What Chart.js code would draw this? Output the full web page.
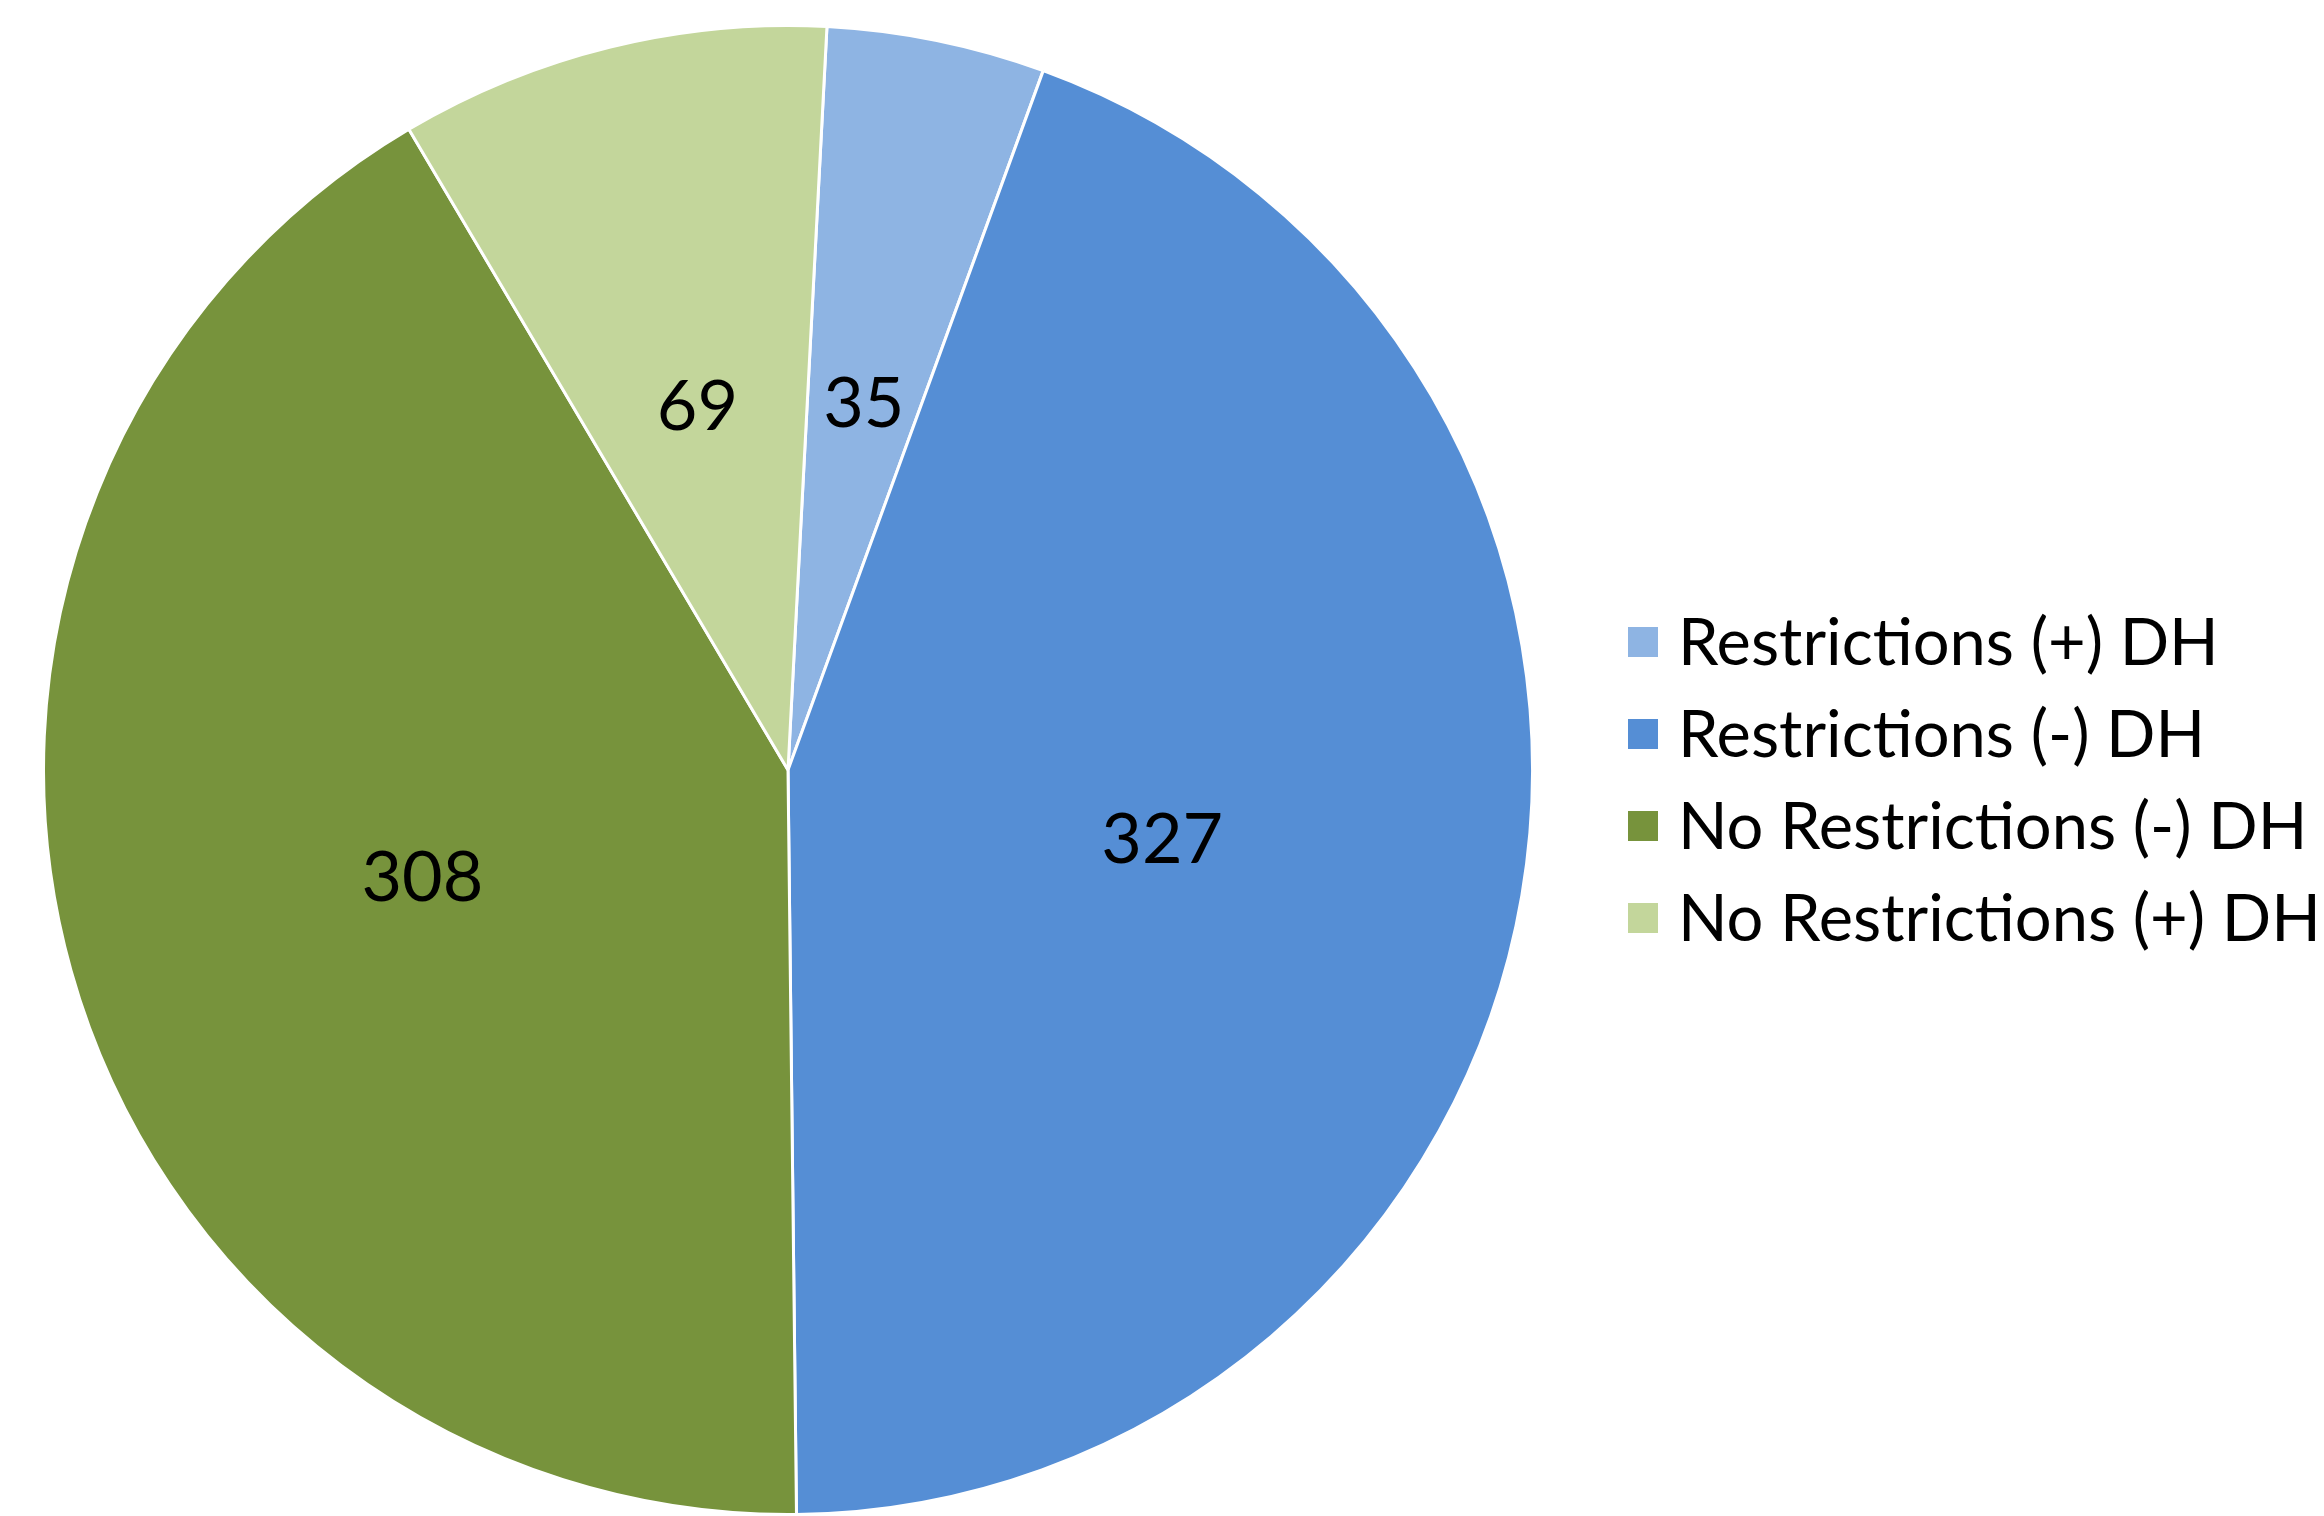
<!DOCTYPE html>
<html>
<head>
<meta charset="utf-8">
<script src="https://cdn.jsdelivr.net/npm/chart.js@4/dist/chart.umd.min.js"></script>
<style>
  html, body { margin: 0; padding: 0; background: #fff; }
  #wrap { width: 2324px; height: 1516px; }
</style>
</head>
<body>
<div id="wrap"><canvas id="chart"></canvas></div>
<script>
// pie data
const categories = ['Restrictions (+) DH', 'Restrictions (-) DH', 'No Restrictions (-) DH', 'No Restrictions (+) DH'];
const counts = [35, 327, 308, 69];
const sliceColors = ['#8EB4E3', '#558ED5', '#77933C', '#C3D69B'];

const FONT = 'Lato, "Liberation Sans", sans-serif';

// value labels inside each slice
const sliceLabels = {
  id: 'sliceLabels',
  afterDatasetsDraw(chart) {
    const ctx = chart.ctx;
    const meta = chart.getDatasetMeta(0);
    ctx.save();
    ctx.font = '70px ' + FONT;
    ctx.fillStyle = '#000';
    ctx.textAlign = 'center';
    ctx.textBaseline = 'middle';
    meta.data.forEach((arc, i) => {
      const p = arc.getProps(['x', 'y', 'startAngle', 'endAngle', 'outerRadius'], true);
      const mid = (p.startAngle + p.endAngle) / 2;
      const r = p.outerRadius * 0.51;
      ctx.fillText(String(counts[i]), p.x + Math.cos(mid) * r, p.y + Math.sin(mid) * r + 6);
    });
    ctx.restore();
  }
};

// legend on the right side
const sideLegend = {
  id: 'sideLegend',
  afterDraw(chart) {
    const ctx = chart.ctx;
    const area = chart.chartArea;
    const rowH = 92, box = 30;
    const x = area.right + 94;
    const y0 = area.top + area.height / 2 + 10 - rowH * (categories.length - 1) / 2;
    ctx.save();
    ctx.font = '65px ' + FONT;
    ctx.textBaseline = 'middle';
    categories.forEach((name, i) => {
      const y = y0 + i * rowH;
      ctx.fillStyle = sliceColors[i];
      ctx.fillRect(x, y - box / 2, box, box);
      ctx.fillStyle = '#000';
      ctx.fillText(name, x + box + 20, y + 2);
    });
    ctx.restore();
  }
};

new Chart(document.getElementById('chart'), {
  type: 'pie',
  data: {
    labels: categories,
    datasets: [{
      data: counts,
      backgroundColor: sliceColors,
      borderColor: '#fff',
      borderWidth: 3
    }]
  },
  options: {
    responsive: true,
    maintainAspectRatio: false,
    animation: false,
    rotation: 3,
    layout: { padding: { left: 42, right: 790, top: 24, bottom: 0 } },
    plugins: {
      legend: { display: false },
      tooltip: { enabled: false }
    }
  },
  plugins: [sliceLabels, sideLegend]
});
</script>
</body>
</html>
